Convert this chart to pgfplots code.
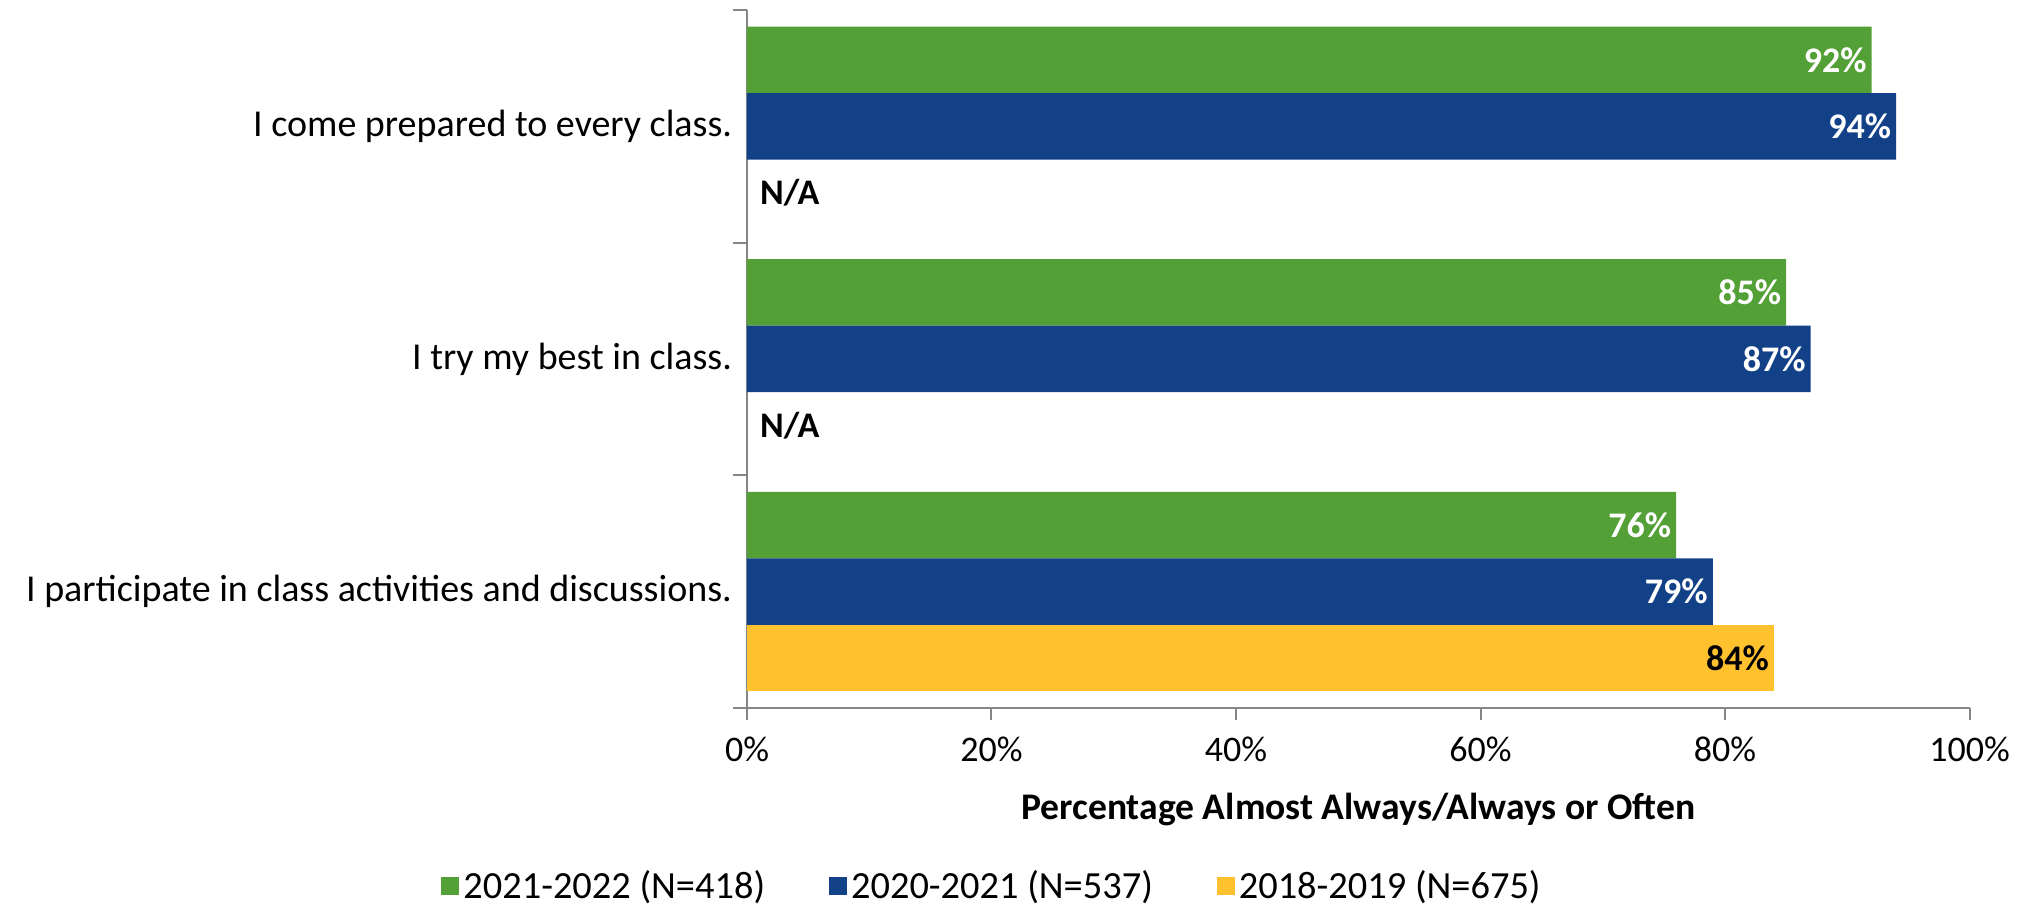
\documentclass[border=0pt]{standalone}
\usepackage{pgfplots}
\pgfplotsset{compat=1.18}
\usepackage{fontspec}
\setmainfont{Carlito}
\definecolor{cgreen}{RGB}{83,160,54}
\definecolor{cblue}{RGB}{19,65,136}
\definecolor{cyellow}{RGB}{255,194,46}
\definecolor{cgray}{RGB}{134,134,134}
\newcommand{\fs}{\fontsize{18}{21.6}\selectfont}
\newcommand{\fl}{\fontsize{19.2}{23}\selectfont}
\begin{document}
\begin{tikzpicture}
\useasboundingbox (0,0) rectangle (1015pt,455.5pt);
\begin{axis}[
  at={(373.5pt,101.5pt)}, anchor=south west,
  scale only axis, width=611.25pt, height=349pt,
  xbar, bar width=33.25pt,
  xmin=0, xmax=100, ymin=-0.5, ymax=2.5,
  axis x line*=bottom, axis y line*=left,
  axis line style={cgray, line width=1pt},
  tick align=outside,
  xtick={0,20,40,60,80,100},
  xticklabel={\pgfmathprintnumber{\tick}\%},
  major tick length=6pt,
  x tick style={cgray, line width=1pt},
  ytick={0,1,2},
  yticklabels={I participate in class activities and discussions., I try my best in class., I come prepared to every class.},
  major y tick style={draw=none},
  minor ytick={-0.5,0.5,1.5,2.5},
  minor tick length=7pt,
  minor y tick style={cgray, line width=1pt},
  /pgf/number format/assume math mode=true,
  tick label style={text=black},
  xticklabel style={font=\fs, yshift=-5pt},
  yticklabel style={font=\fontsize{19}{22.5}\selectfont, xshift=2pt},
  xlabel={\textbf{Percentage Almost Always/Always or Often}},
  xlabel style={font=\fontsize{18.8}{22}\selectfont, at={(axis description cs:0.5,-0.1447)}, anchor=center},
  legend columns=3,
  legend style={draw=none, font=\fl, at={(axis description cs:0.2012,-0.255)}, anchor=center,
    /tikz/every even column/.append style={column sep=30pt}},
  legend image code/.code={\fill[#1,draw=none] (0pt,-4.5pt) rectangle (9pt,4.5pt);},
  nodes near coords={\pgfmathprintnumber{\pgfplotspointmeta}\%},
  every node near coord/.append style={anchor=east, font=\fs\bfseries, text=white, xshift=1pt},
  clip=false,
]
\addplot[fill=cgreen, draw=none, bar shift=33.25pt] coordinates {(92,2) (85,1) (76,0)};
\addplot[fill=cblue, draw=none, bar shift=0pt] coordinates {(94,2) (87,1) (79,0)};
\addplot[fill=cyellow, draw=none, bar shift=-33.25pt, every node near coord/.append style={text=black}] coordinates {(84,0)};
\legend{2021-2022 (N=418), 2020-2021 (N=537), 2018-2019 (N=675)}
\node[anchor=west, font=\fs\bfseries, yshift=-33.25pt, xshift=3pt] at (axis cs:0,2) {N/A};
\node[anchor=west, font=\fs\bfseries, yshift=-33.25pt, xshift=3pt] at (axis cs:0,1) {N/A};
\end{axis}
\end{tikzpicture}
\end{document}
